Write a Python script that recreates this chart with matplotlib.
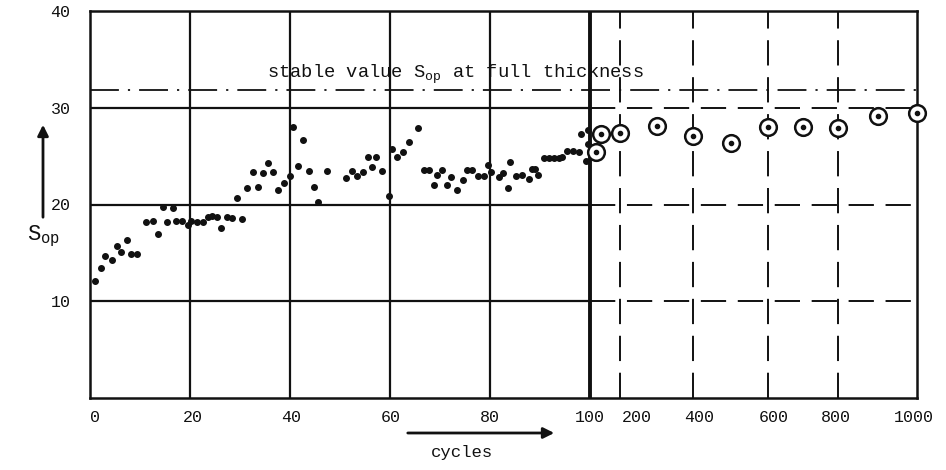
import numpy as np
import matplotlib.pyplot as plt
from matplotlib.transforms import ScaledTranslation

# filled dots, cycles 1..100
cycles_early = [1, 2.1, 3, 4.3, 5.3, 6.2, 7.3, 8.1, 9.3,
                11.2, 12.5, 13.5, 14.5, 15.4, 16.5, 17.1, 18.3, 19.5,
                20.2, 21.3, 22.5, 23.5, 24.3, 25.3, 26.2, 27.3, 28.3, 29.3,
                30.3, 31.3, 32.5, 33.6, 34.5, 35.6, 36.5, 37.5, 38.7, 39.9,
                40.5, 41.6, 42.5, 43.8, 44.7, 45.5, 47.4,
                51.2, 52.3, 53.3, 54.5, 55.5, 56.3, 57.2, 58.3, 59.7,
                60.3, 61.3, 62.5, 63.7, 65.5, 66.7, 67.8, 68.7, 69.3,
                70.4, 71.3, 72.1, 73.3, 74.5, 75.3, 76.4, 77.5, 78.8, 79.5,
                80.2, 81.7, 82.5, 83.5, 84, 85.2, 86.3, 87.7, 88.3, 89, 89.6,
                90.7, 91.7, 92.7, 93.7, 94.3, 95.3, 96.5, 97.7, 98.1, 99.5, 99.5, 99.2]
sop_early = [12.1, 13.4, 14.7, 14.3, 15.7, 15.1, 16.3, 14.9, 14.9,
             18.2, 18.25, 16.9, 19.7, 18.2, 19.6, 18.25, 18.3, 17.9,
             18.3, 18.2, 18.2, 18.7, 18.8, 18.7, 17.6, 18.7, 18.6, 20.7,
             18.5, 21.7, 23.4, 21.8, 23.3, 24.3, 23.4, 21.5, 22.2, 22.9,
             28.0, 24.0, 26.7, 23.5, 21.8, 20.3, 23.5,
             22.7, 23.5, 22.9, 23.4, 24.9, 23.9, 24.9, 23.5, 20.9,
             25.7, 24.9, 25.4, 26.5, 27.9, 23.6, 23.6, 22.0, 23.0,
             23.6, 22.0, 22.8, 21.5, 22.5, 23.6, 23.6, 22.9, 22.9, 24.1,
             23.4, 22.8, 23.3, 21.7, 24.4, 22.9, 23.1, 22.6, 23.7, 23.7, 23.0,
             24.8, 24.8, 24.8, 24.8, 24.9, 25.5, 25.5, 25.4, 27.3, 27.7, 26.3, 24.5]

# circled points, beyond 100 cycles
cycles_late = [120, 137, 200, 300, 400, 500, 600, 700, 800, 900, 1000]
sop_late = [25.4, 27.3, 27.4, 28.1, 27.1, 26.4, 28.0, 28.0, 27.9, 29.1, 29.5]

stable_sop = 31.8

tick_cycles = [0, 20, 40, 60, 80, 100, 200, 400, 600, 800, 1000]
tick_labels = [str(t) for t in tick_cycles]
ytick_values = [10, 20, 30, 40]

# axis is linear up to 100 cycles, then compressed (hand drawn, uneven)
scale_knots = [0, 100, 200, 400, 600, 800, 1000]
scale_pos = [0, 100, 106, 120.6, 135.6, 149.6, 165.4]

# small nudges (pixels) of x tick labels as in the drawing
label_nudge_px = [5, 3, 1, 1, 0, 0, 17, 6, 6, -2, -3]

INK = "#111111"
FONT = "Liberation Mono"


def _fwd(x):
    return np.interp(x, scale_knots, scale_pos)


def _inv(p):
    return np.interp(p, scale_pos, scale_knots)


plt.rcParams["font.family"] = FONT
plt.rcParams["mathtext.fontset"] = "custom"
plt.rcParams["mathtext.rm"] = FONT
plt.rcParams["mathtext.it"] = FONT

fig = plt.figure(figsize=(9.46, 4.70), dpi=100)
ax = fig.add_axes([90 / 946, 1 - 398 / 470, (917 - 90) / 946, (398 - 11) / 470])
ax.set_xscale("function", functions=(_fwd, _inv))
ax.set_xlim(0, 1000)
ax.set_ylim(0, 40)

# left part: solid grid
for c in tick_cycles[1:5]:
    ax.plot([c, c], [0, 40], color=INK, lw=1.6)
for v in ytick_values[:3]:
    ax.plot([0, 100], [v, v], color=INK, lw=1.6)

# right part: dashed grid
for c in tick_cycles[6:10]:
    ax.plot([c, c], [0, 40], color=INK, lw=1.4, linestyle=(0, (13, 6)))
for v in ytick_values[:3]:
    ax.plot([100, 1000], [v, v], color=INK, lw=1.4, linestyle=(0, (13, 6)))

ax.plot([100, 100], [0, 40], color=INK, lw=2.8)

# stable value line
ax.plot([0, 1000], [stable_sop, stable_sop], color=INK, lw=1.3,
        linestyle=(0, (16, 5, 1.2, 5)))
ax.text(73, stable_sop + 0.45, "stable value S$_{\\mathrm{op}}$ at full thickness",
        ha="center", va="bottom", fontsize=13.5, color=INK)

ax.plot(cycles_early, sop_early, "o", ms=4.0, color=INK, mec=INK)
ax.plot(cycles_late, sop_late, "o", ms=12, mfc="white", mec=INK, mew=1.8,
        clip_on=False, zorder=4)
ax.plot(cycles_late, sop_late, "o", ms=3.0, color=INK, clip_on=False, zorder=5)

for side in ["left", "right", "top", "bottom"]:
    ax.spines[side].set_linewidth(1.8)
    ax.spines[side].set_color(INK)

ax.set_xticks(tick_cycles, labels=tick_labels)
ax.set_yticks(ytick_values, labels=[str(v) for v in ytick_values])
ax.tick_params(axis="x", length=0, pad=9, labelsize=12, colors=INK)
ax.tick_params(axis="y", length=0, pad=14, labelsize=12, colors=INK)
ax.minorticks_off()

for lbl, dx in zip(ax.get_xticklabels(), label_nudge_px):
    lbl.set_transform(lbl.get_transform() + ScaledTranslation(dx / 100, 0, fig.dpi_scale_trans))

# axis labels with arrows, as drawn on the original
fig.text(44 / 946, 1 - 236 / 470, "S$_{\\mathrm{op}}$", fontsize=16, ha="center",
         va="center", color=INK)
ax.annotate("", xy=(43 / 946, 1 - 122 / 470), xytext=(43 / 946, 1 - 220 / 470),
            xycoords="figure fraction", textcoords="figure fraction",
            arrowprops=dict(arrowstyle="-|>", color=INK, lw=2, mutation_scale=16))
ax.annotate("", xy=(557 / 946, 1 - 433 / 470), xytext=(405 / 946, 1 - 433 / 470),
            xycoords="figure fraction", textcoords="figure fraction",
            arrowprops=dict(arrowstyle="-|>", color=INK, lw=2, mutation_scale=16))
fig.text(462 / 946, 1 - 452 / 470, "cycles", fontsize=12.5, ha="center",
         va="center", color=INK)

fig.savefig("out.png", dpi=100)
